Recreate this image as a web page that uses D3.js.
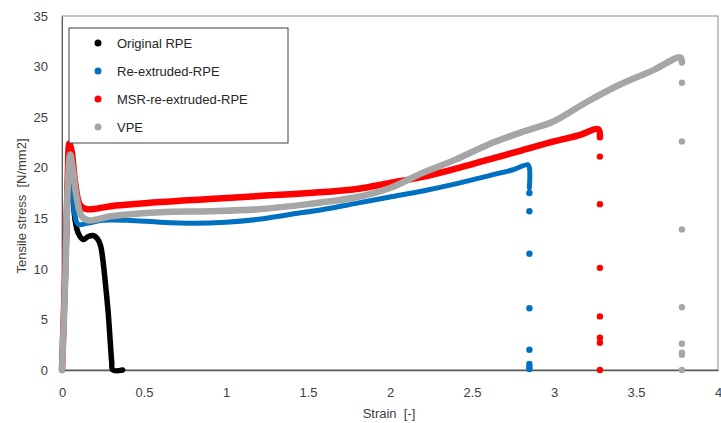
<!DOCTYPE html>
<html>
<head>
<meta charset="utf-8">
<script src="https://cdn.jsdelivr.net/npm/d3@7"></script>
<style>
  body { margin: 0; background: #fff; }
  text { font-family: "Liberation Sans", Arial, sans-serif; }
</style>
</head>
<body>
<div id="chart"></div>
<script>
// values
const seriesNames = ["Original RPE", "Re-extruded-RPE", "MSR-re-extruded-RPE", "VPE"];
const seriesColors = ["#000000", "#0070C0", "#FF0000", "#A6A6A6"];

const rpeStrain = [0, 0.015, 0.03, 0.042, 0.06, 0.08, 0.1, 0.13, 0.16, 0.19, 0.215, 0.235, 0.25, 0.265, 0.282, 0.295, 0.303, 0.31, 0.37];
const rpeStress = [0, 7, 15, 20.3, 18.5, 14.8, 13.5, 12.9, 13.2, 13.3, 13.0, 12.3, 10.8, 8.5, 5.6, 2.6, 0.8, 0, 0];

const reStrain = [0, 0.02, 0.035, 0.045, 0.06, 0.08, 0.1, 0.15, 0.25, 0.4, 0.6, 0.8, 1.0, 1.2, 1.4, 1.6, 1.8, 2.0, 2.2, 2.4, 2.6, 2.75, 2.84, 2.85, 2.85];
const reStress = [0, 9, 17, 20.5, 18, 15.2, 14.4, 14.5, 14.8, 14.8, 14.6, 14.5, 14.6, 14.9, 15.4, 15.9, 16.5, 17.1, 17.7, 18.4, 19.2, 19.8, 20.3, 20.0, 18.0];

const msrStrain = [0, 0.02, 0.035, 0.045, 0.06, 0.08, 0.11, 0.15, 0.3, 0.6, 0.9, 1.2, 1.5, 1.8, 2.0, 2.2, 2.4, 2.6, 2.8, 3.0, 3.15, 3.27, 3.28];
const msrStress = [0, 10, 19, 22.4, 21.5, 18.5, 16.3, 15.9, 16.2, 16.6, 16.9, 17.2, 17.5, 17.9, 18.5, 19.1, 19.9, 20.8, 21.7, 22.6, 23.2, 23.8, 23.0];

const vpeStrain = [0, 0.02, 0.035, 0.05, 0.065, 0.09, 0.12, 0.16, 0.3, 0.6, 0.9, 1.2, 1.5, 1.8, 2.0, 2.2, 2.4, 2.6, 2.8, 3.0, 3.2, 3.4, 3.6, 3.77, 3.78];
const vpeStress = [0, 9, 18, 21.3, 20, 17, 15.2, 14.8, 15.2, 15.6, 15.7, 15.9, 16.4, 17.1, 18.0, 19.5, 20.8, 22.3, 23.5, 24.6, 26.5, 28.2, 29.6, 30.9, 30.4];

// scattered points after break
const breakStrain = [null, 2.85, 3.28, 3.78];
const reBreakStress = [17.5, 15.7, 11.5, 6.1, 2.0, 0.6, 0.3, 0.1];
const msrBreakStress = [21.1, 16.4, 10.1, 5.3, 3.2, 2.7, 0];
const vpeBreakStress = [28.4, 22.6, 13.9, 6.2, 2.6, 1.7, 1.5, 0];

const xTicks = [0, 0.5, 1, 1.5, 2, 2.5, 3, 3.5, 4];
const yTicks = [0, 5, 10, 15, 20, 25, 30, 35];

const lines = [
  { strain: rpeStrain, stress: rpeStress, width: 5.5 },
  { strain: reStrain, stress: reStress, width: 5 },
  { strain: msrStrain, stress: msrStress, width: 6.5 },
  { strain: vpeStrain, stress: vpeStress, width: 6.5 }
];
const breaks = [[], reBreakStress, msrBreakStress, vpeBreakStress];

var margin = { top: 16, right: 3, bottom: 53, left: 62 },
    width = 721 - margin.left - margin.right,
    height = 423 - margin.top - margin.bottom;

var svg = d3.select("#chart")
    .append("svg")
    .attr("width", 721)
    .attr("height", 423)
    .append("g")
    .attr("transform", "translate(" + margin.left + "," + margin.top + ")");

var x = d3.scaleLinear().domain([0, 4]).range([0, width]);
var y = d3.scaleLinear().domain([0, 35]).range([height, 0]);

// plot frame
svg.append("rect")
    .attr("width", width)
    .attr("height", height)
    .attr("fill", "none")
    .attr("stroke", "#8a8a8a")
    .attr("stroke-width", 1);

var xAxis = svg.append("g")
    .attr("transform", "translate(0," + height + ")")
    .call(d3.axisBottom(x).tickValues(xTicks).tickSize(0).tickPadding(18).tickFormat(d3.format("")));
xAxis.select(".domain").attr("stroke", "#595959").attr("stroke-width", 1.3);
xAxis.selectAll("text").attr("fill", "#404040").style("font-size", "13px");

var yAxis = svg.append("g")
    .call(d3.axisLeft(y).tickValues(yTicks).tickSize(0).tickPadding(14));
yAxis.select(".domain").attr("stroke", "#595959");
yAxis.selectAll("text").attr("fill", "#404040").style("font-size", "13px");

svg.append("text")
    .attr("x", width / 2 - 1)
    .attr("y", height + 48)
    .attr("text-anchor", "middle")
    .attr("fill", "#404040")
    .style("font-size", "13px")
    .style("white-space", "pre")
    .text("Strain  [-]");

svg.append("text")
    .attr("transform", "rotate(-90)")
    .attr("x", -(206 - margin.top))
    .attr("y", -36)
    .attr("text-anchor", "middle")
    .attr("fill", "#404040")
    .style("font-size", "13px")
    .style("white-space", "pre")
    .text("Tensile stress  [N/mm2]");

var line = d3.line()
    .curve(d3.curveCatmullRom.alpha(0.5))
    .x(d => x(d[0]))
    .y(d => y(d[1]));

lines.forEach(function (s, i) {
    var pts = s.strain.map((v, k) => [v, s.stress[k]]);
    svg.append("path")
        .datum(pts)
        .attr("fill", "none")
        .attr("stroke", seriesColors[i])
        .attr("stroke-width", s.width)
        .attr("stroke-linejoin", "round")
        .attr("stroke-linecap", "round")
        .attr("d", line);

    svg.append("g")
        .selectAll("circle")
        .data(breaks[i])
        .enter()
        .append("circle")
        .attr("cx", x(breakStrain[i]))
        .attr("cy", d => y(d))
        .attr("r", 3.2)
        .attr("fill", seriesColors[i]);
});

// legend
var legend = svg.append("g")
    .attr("transform", "translate(" + (69 - margin.left) + "," + (28 - margin.top) + ")");
legend.append("rect")
    .attr("width", 219)
    .attr("height", 115)
    .attr("fill", "#fff")
    .attr("stroke", "#404040")
    .attr("stroke-width", 1);
seriesNames.forEach(function (name, i) {
    legend.append("circle")
        .attr("cx", 29)
        .attr("cy", 15 + i * 28)
        .attr("r", 3.5)
        .attr("fill", seriesColors[i]);
    legend.append("text")
        .attr("x", 48)
        .attr("y", 15 + i * 28)
        .attr("dy", "0.35em")
        .attr("fill", "#262626")
        .style("font-size", "13px")
        .text(name);
});
</script>
</body>
</html>
